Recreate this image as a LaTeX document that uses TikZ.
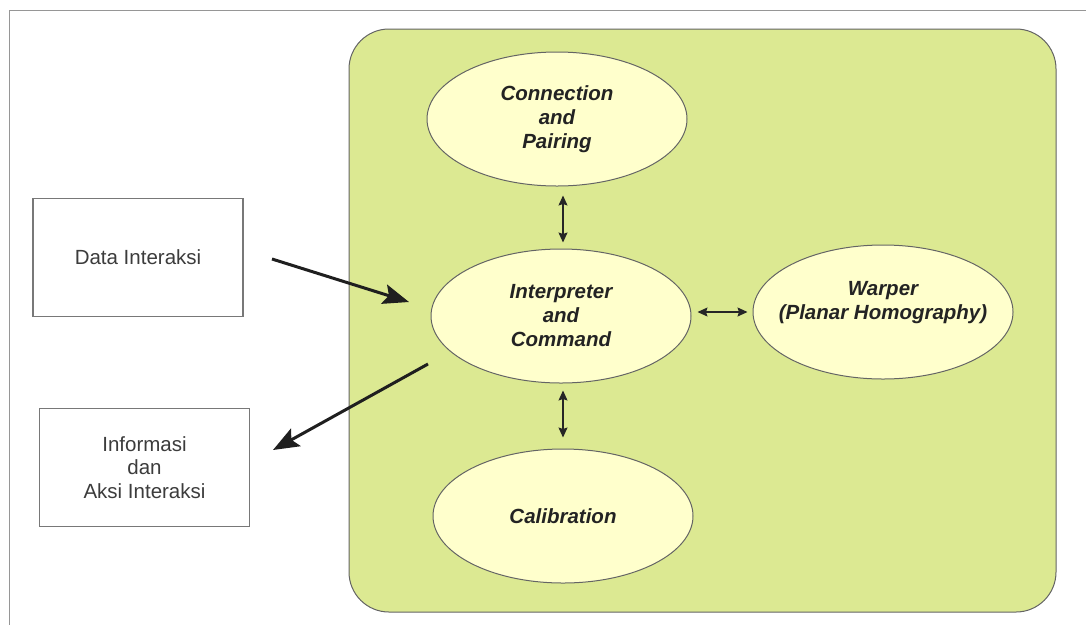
\documentclass[tikz,border=0pt]{standalone}
\usepackage{fontspec}
\setmainfont{Liberation Sans}
\usetikzlibrary{shapes.geometric,arrows.meta}
\definecolor{panelgreen}{RGB}{220,233,146}
\definecolor{ellfill}{RGB}{255,255,204}
\definecolor{edgegray}{RGB}{100,100,100}
\definecolor{framegray}{RGB}{150,150,150}
\definecolor{boxgray}{RGB}{120,120,120}
\definecolor{txtdark}{RGB}{35,35,35}
\definecolor{txtgray}{RGB}{60,60,60}
\tikzset{
  ptext/.style={align=center, inner sep=0pt, text=txtdark,
    font=\fontsize{20.5}{24}\selectfont\bfseries\itshape},
  proc/.style={ellipse, draw=edgegray, line width=1pt, fill=ellfill,
    minimum width=260pt, minimum height=134pt, inner sep=0pt},
  iobox/.style={rectangle, draw=boxgray, line width=1.3pt, fill=white,
    minimum width=210pt, minimum height=118pt, inner sep=0pt, align=center,
    text=txtgray, font=\fontsize{20.5}{23.5}\selectfont},
  bigarrow/.style={line width=3pt, draw=black!88,
    -{Stealth[length=26pt,width=20pt,inset=5pt]}},
  dbl/.style={line width=1.2pt, draw=black!85,
    {Stealth[length=10pt,width=9pt,inset=1.5pt]}-{Stealth[length=10pt,width=9pt,inset=1.5pt]}}
}
\begin{document}
\begin{tikzpicture}[x=1pt,y=-1pt]
\useasboundingbox (0,0) rectangle (1086,625);
% outer frame (cut off at right and bottom)
\draw[framegray, line width=1.6pt] (1086,10.5) -- (9.5,10.5) -- (9.5,625);
% green panel
\draw[edgegray, line width=1pt, fill=panelgreen, rounded corners=40pt]
  (349,29) rectangle (1056,612);
% ellipses
\node[proc, label={[ptext]center:Connection\\and\\Pairing}] (cp) at (557,119) {};
\node[proc, label={[ptext]center:Interpreter\\and\\Command}] (ic) at (561,316) {};
\node[proc, label={[ptext,yshift=9pt]center:Warper\\(Planar Homography)}] (wp) at (883,312) {};
\node[proc, label={[ptext]center:Calibration}] (cal) at (563,516) {};
% boxes
\node[iobox] (di) at (138,257.5) {Data Interaksi};
\node[iobox] (ia) at (144.5,467.5) {Informasi\\dan\\Aksi Interaksi};
% double arrows
\coordinate (ax) at (563,0);
\draw[dbl, shorten <=9pt, shorten >=6pt] (cp.south -| ax) -- (ic.north -| ax);
\draw[dbl, shorten <=7pt, shorten >=11pt] (ic.south -| ax) -- (cal.north -| ax);
\draw[dbl, shorten <=6pt, shorten >=5pt] (ic.east |- wp.west) -- (wp.west);
% thick arrows
\coordinate (inS) at (272,259);
\coordinate (inE) at (409,302);
\coordinate (outS) at (428,364);
\coordinate (outE) at (273,450);
\draw[bigarrow] (inS) -- (inE);
\draw[bigarrow] (outS) -- (outE);
\end{tikzpicture}
\end{document}
